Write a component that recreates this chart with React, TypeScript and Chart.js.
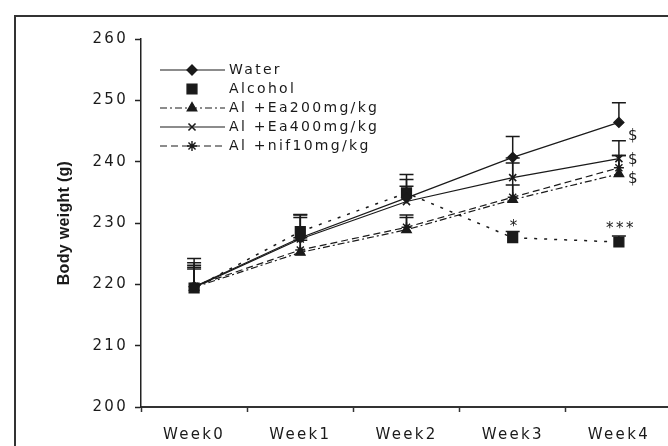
import React, { useEffect, useRef } from 'react';
import { Chart, registerables } from 'chart.js';
import { drawPoint } from 'chart.js/helpers';

Chart.register(...registerables);

const weeks = ['Week0', 'Week1', 'Week2', 'Week3', 'Week4'];

const waterMean = [219.6, 227.6, 234.1, 240.7, 246.4];
const waterErr = [4.6, 3.8, 3.0, 3.4, 3.2];
const alcoholMean = [219.4, 228.6, 234.9, 227.6, 226.9];
const alcoholErr = [4.1, 2.3, 3.0, 1.0, 1.0];
const ea200Mean = [219.5, 225.2, 228.9, 233.8, 238.0];
const ea200Err = [3.6, 2.0, 2.0, 6.8, 3.0];
const ea400Mean = [219.5, 227.4, 233.5, 237.4, 240.5];
const ea400Err = [3.3, 3.9, 2.5, 2.4, 2.9];
const nif10Mean = [219.7, 225.6, 229.3, 234.2, 239.0];
const nif10Err = [2.8, 2.0, 2.0, 2.0, 2.0];

const yMin = 200;
const yMax = 260;
const yStep = 10;
const yTitle = 'Body weight (g)';

const noteTexts = ['*', '***', '$', '$', '$'];
const noteWeeks = ['Week3', 'Week4', 'Week4', 'Week4', 'Week4'];
const noteValues = [229.7, 229.4, 244.1, 240.3, 237.2];

const INK = '#1a1a1a';
const TXT_FONT = '"DejaVu Sans", Verdana, sans-serif';

const errorBarPlugin = {
  id: 'errorBars',
  beforeDatasetsDraw(chart: any) {
    const ctx = chart.ctx;
    const yScale = chart.scales.y;
    chart.data.datasets.forEach((ds: any, i: number) => {
      const meta = chart.getDatasetMeta(i);
      if (!ds.errors) return;
      meta.data.forEach((pt: any, j: number) => {
        const top = yScale.getPixelForValue(ds.data[j] + ds.errors[j]);
        ctx.save();
        ctx.strokeStyle = INK;
        ctx.lineWidth = 1.5;
        ctx.setLineDash([]);
        ctx.beginPath();
        ctx.moveTo(pt.x, pt.y);
        ctx.lineTo(pt.x, top);
        ctx.moveTo(pt.x - 7, top);
        ctx.lineTo(pt.x + 7, top);
        ctx.stroke();
        ctx.restore();
      });
    });
  },
};

const textSpacingPlugin = {
  id: 'textSpacing',
  beforeDraw(chart: any) {
    (chart.ctx as any).letterSpacing = '2.3px';
  },
};

const overlayPlugin = {
  id: 'overlay',
  afterDraw(chart: any) {
    const ctx = chart.ctx;
    const { x, y } = chart.scales;
    // y axis title
    ctx.save();
    (ctx as any).letterSpacing = '0.3px';
    ctx.translate(65, (chart.chartArea.top + chart.chartArea.bottom) / 2);
    ctx.rotate(-Math.PI / 2);
    ctx.font = 'bold 16px "Liberation Sans", Arial, sans-serif';
    ctx.fillStyle = INK;
    ctx.textAlign = 'center';
    ctx.textBaseline = 'middle';
    ctx.fillText(yTitle, 0, 0);
    ctx.restore();

    // significance notes
    ctx.save();
    (ctx as any).letterSpacing = '2.5px';
    ctx.font = '15px ' + TXT_FONT;
    ctx.fillStyle = INK;
    ctx.textBaseline = 'middle';
    noteTexts.forEach((t, i) => {
      const px = x.getPixelForValue(weeks.indexOf(noteWeeks[i]));
      const py = y.getPixelForValue(noteValues[i]);
      if (t === '$') {
        ctx.textAlign = 'left';
        ctx.fillText(t, px + 9, py);
      } else {
        ctx.textAlign = 'center';
        ctx.fillText(t, px + 2, py + 2);
      }
    });
    ctx.restore();

    // legend
    const x0 = 160, x1 = 225, xm = 192, xt = 229, y0 = 70, dy = 19;
    chart.data.datasets.forEach((ds: any, i: number) => {
      const yy = y0 + i * dy;
      ctx.save();
      if (ds.legendLine !== false) {
        ctx.strokeStyle = ds.borderColor;
        ctx.lineWidth = ds.borderWidth;
        ctx.setLineDash(ds.borderDash || []);
        ctx.beginPath();
        ctx.moveTo(x0, yy);
        ctx.lineTo(x1, yy);
        ctx.stroke();
      }
      ctx.setLineDash([]);
      ctx.fillStyle = ds.pointBackgroundColor;
      ctx.strokeStyle = ds.pointBorderColor;
      ctx.lineWidth = ds.pointBorderWidth;
      drawPoint(ctx, { pointStyle: ds.pointStyle, radius: ds.pointRadius, rotation: 0, borderWidth: ds.pointBorderWidth } as any, xm, yy);
      (ctx as any).letterSpacing = '2.3px';
      ctx.font = '14px ' + TXT_FONT;
      ctx.fillStyle = INK;
      ctx.textAlign = 'left';
      ctx.textBaseline = 'middle';
      ctx.fillText(ds.label, xt, yy);
      ctx.restore();
    });
  },
};

function series(label: string, data: number[], errors: number[], style: any) {
  return {
    label,
    data,
    errors,
    borderColor: INK,
    backgroundColor: INK,
    pointBackgroundColor: INK,
    pointBorderColor: INK,
    pointBorderWidth: 1.3,
    borderWidth: 1.2,
    tension: 0,
    ...style,
  };
}

export default function App() {
  const ref = useRef<HTMLCanvasElement | null>(null);

  useEffect(() => {
    if (!ref.current) return;
    const tickFont = { family: TXT_FONT, size: 15 };
    const chart = new Chart(ref.current, {
      type: 'line',
      data: {
        labels: weeks,
        datasets: [
          series('Water', waterMean, waterErr, { pointStyle: 'rectRot', pointRadius: 5 }),
          series('Alcohol', alcoholMean, alcoholErr, { pointStyle: 'rect', pointRadius: 7, borderDash: [3, 7], borderWidth: 1.5, legendLine: false }),
          series('Al +Ea200mg/kg', ea200Mean, ea200Err, { pointStyle: 'triangle', pointRadius: 5.5, borderDash: [7, 3, 2, 3] }),
          series('Al +Ea400mg/kg', ea400Mean, ea400Err, { pointStyle: 'crossRot', pointRadius: 5, pointBorderWidth: 1.6 }),
          series('Al +nif10mg/kg', nif10Mean, nif10Err, { pointStyle: 'star', pointRadius: 5, pointBorderWidth: 1.4, borderDash: [7, 4] }),
        ] as any,
      },
      options: {
        animation: false,
        responsive: false,
        devicePixelRatio: 1,
        layout: { padding: { left: 0, right: 28, top: 39, bottom: 0 } },
        plugins: {
          legend: { display: false },
          tooltip: { enabled: false },
        },
        scales: {
          x: {
            type: 'category',
            offset: true,
            grid: { offset: true, drawOnChartArea: false, tickLength: 5, color: '#333', tickWidth: 1.5 },
            border: { color: '#333', width: 2 },
            ticks: { font: tickFont, color: INK, padding: 14 },
            afterFit: (s: any) => { s.height = 39; },
          },
          y: {
            min: yMin,
            max: yMax,
            ticks: { stepSize: yStep, font: tickFont, color: INK, padding: 7 },
            grid: { drawOnChartArea: false, tickLength: 6, color: '#222', tickWidth: 1.5 },
            border: { color: '#222', width: 1.5 },
            afterFit: (s: any) => { s.width = 141; },
          },
        },
      } as any,
      plugins: [textSpacingPlugin, errorBarPlugin, overlayPlugin],
    });
    return () => chart.destroy();
  }, []);

  return (
    <div style={{ position: 'fixed', left: 0, top: 0, width: 668, height: 446, overflow: 'hidden', background: '#fff' }}>
      <div style={{ position: 'absolute', left: 14, top: 15, width: 1000, height: 1000, borderLeft: '2px solid #333', borderTop: '2px solid #333' }} />
      <canvas ref={ref} width={700} height={446} style={{ position: 'absolute', left: 0, top: 0 }} />
    </div>
  );
}
